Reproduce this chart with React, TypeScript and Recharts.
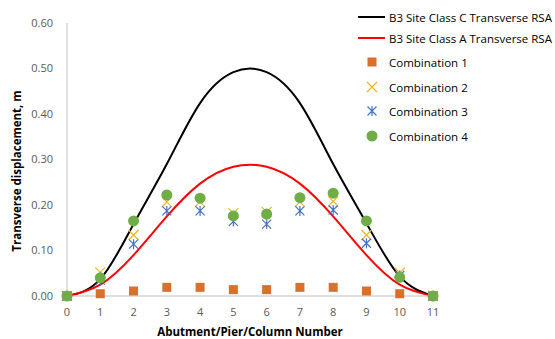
import { ComposedChart, Line, Scatter, XAxis, YAxis } from 'recharts';

const xTicks = [0, 1, 2, 3, 4, 5, 6, 7, 8, 9, 10, 11];
const yTicks = [0, 0.1, 0.2, 0.3, 0.4, 0.5, 0.6];

// smoothed RSA envelopes, read at each abutment/pier
const classC = [0, 0.037, 0.158, 0.29, 0.424, 0.492, 0.492, 0.424, 0.29, 0.16, 0.043, 0];
const classA = [0, 0.025, 0.09, 0.175, 0.247, 0.284, 0.284, 0.247, 0.175, 0.09, 0.025, 0];

const combo1 = [0, 0.005, 0.011, 0.019, 0.019, 0.014, 0.014, 0.019, 0.019, 0.011, 0.005, 0];
const combo2 = [0, 0.052, 0.134, 0.207, 0.207, 0.182, 0.185, 0.207, 0.208, 0.134, 0.051, 0];
const combo3 = [0, 0.035, 0.114, 0.187, 0.187, 0.164, 0.158, 0.187, 0.189, 0.116, 0.045, 0];
const combo4 = [0, 0.04, 0.165, 0.222, 0.215, 0.176, 0.18, 0.216, 0.226, 0.165, 0.041, 0];

const toPts = (ys: number[]) => ys.map((y, i) => ({ x: xTicks[i], y }));

const FONT = '"Open Sans", "Noto Sans", sans-serif';
const ORANGE = '#D9702B';
const YELLOW = '#F2B51A';
const BLUE = '#4472C4';
const GREEN = '#70AD47';

const Square = ({ cx, cy }: any) => <rect x={cx - 4.5} y={cy - 4.5} width={9} height={9} fill={ORANGE} />;
const Cross = ({ cx, cy }: any) => (
  <path d={`M${cx - 5},${cy - 5}L${cx + 5},${cy + 5}M${cx - 5},${cy + 5}L${cx + 5},${cy - 5}`} stroke={YELLOW} strokeWidth={1.2} />
);
const Star = ({ cx, cy }: any) => (
  <path
    d={`M${cx - 4.5},${cy - 4.5}L${cx + 4.5},${cy + 4.5}M${cx - 4.5},${cy + 4.5}L${cx + 4.5},${cy - 4.5}M${cx},${cy - 5}L${cx},${cy + 5}`}
    stroke={BLUE}
    strokeWidth={1.2}
  />
);
const Dot = ({ cx, cy }: any) => <circle cx={cx} cy={cy} r={5.5} fill={GREEN} />;

const legendRows = [
  { name: 'B3 Site Class C Transverse RSA', kind: 'line', color: '#000' },
  { name: 'B3 Site Class A Transverse RSA', kind: 'line', color: '#FF0000' },
  { name: 'Combination 1', kind: 'sq' },
  { name: 'Combination 2', kind: 'x' },
  { name: 'Combination 3', kind: 'star' },
  { name: 'Combination 4', kind: 'dot' },
];
const legendY = [17, 38, 62, 87, 111, 136];

const LegendIcon = ({ kind, color }: { kind: string; color?: string }) => (
  <svg width={28} height={12} style={{ display: 'block' }}>
    {kind === 'line' && <line x1={0} y1={6} x2={27} y2={6} stroke={color} strokeWidth={2} />}
    {kind === 'sq' && <Square cx={14} cy={6} />}
    {kind === 'x' && <Cross cx={14} cy={6} />}
    {kind === 'star' && <Star cx={14} cy={6} />}
    {kind === 'dot' && <Dot cx={14} cy={6} />}
  </svg>
);

const titleStyle = { fill: '#000', fontSize: 11.5, fontWeight: 'bold' as const, fontFamily: FONT };

export default function App() {
  return (
    <div style={{ position: 'absolute', left: 0, top: 0, width: 555, height: 339, background: '#fff', overflow: 'hidden', fontFamily: FONT }}>
      <ComposedChart width={555} height={339} margin={{ top: 23, right: 122, bottom: 0, left: 0 }}>
        <XAxis
          type="number"
          dataKey="x"
          domain={[0, 11]}
          ticks={xTicks}
          interval={0}
          tickLine={false}
          axisLine={{ stroke: '#BFBFBF' }}
          tick={{ fill: '#595959', fontSize: 11, fontFamily: FONT }}
          tickMargin={6}
          height={43}
          label={() => (
            <text x={250} y={336} textAnchor="middle" {...titleStyle}>
              Abutment/Pier/Column Number
            </text>
          )}
        />
        <YAxis
          type="number"
          dataKey="y"
          domain={[0, 0.6]}
          ticks={yTicks}
          interval={0}
          tickLine={false}
          axisLine={{ stroke: '#BFBFBF' }}
          tickFormatter={(v: number) => v.toFixed(2)}
          tick={{ fill: '#595959', fontSize: 11, fontFamily: FONT }}
          tickMargin={8}
          width={67}
          label={() => (
            <text x={21} y={171} transform="rotate(-90 21 171)" textAnchor="middle" {...titleStyle}>
              Transverse displacement, m
            </text>
          )}
        />
        <Line data={toPts(classC)} dataKey="y" type="natural" stroke="#000" strokeWidth={2} dot={false} isAnimationActive={false} />
        <Line data={toPts(classA)} dataKey="y" type="natural" stroke="#FF0000" strokeWidth={2} dot={false} isAnimationActive={false} />
        <Scatter data={toPts(combo1)} dataKey="y" shape={<Square />} isAnimationActive={false} />
        <Scatter data={toPts(combo2)} dataKey="y" shape={<Cross />} isAnimationActive={false} />
        <Scatter data={toPts(combo3)} dataKey="y" shape={<Star />} isAnimationActive={false} />
        <Scatter data={toPts(combo4)} dataKey="y" shape={<Dot />} isAnimationActive={false} />
      </ComposedChart>
      {legendRows.map((r, i) => (
        <div
          key={r.name}
          style={{ position: 'absolute', left: 358, top: legendY[i] - 8, height: 16, display: 'flex', alignItems: 'center', whiteSpace: 'nowrap', fontSize: 11.5, color: '#000' }}
        >
          <LegendIcon kind={r.kind} color={r.color} />
          <span style={{ marginLeft: 3 }}>{r.name}</span>
        </div>
      ))}
    </div>
  );
}
